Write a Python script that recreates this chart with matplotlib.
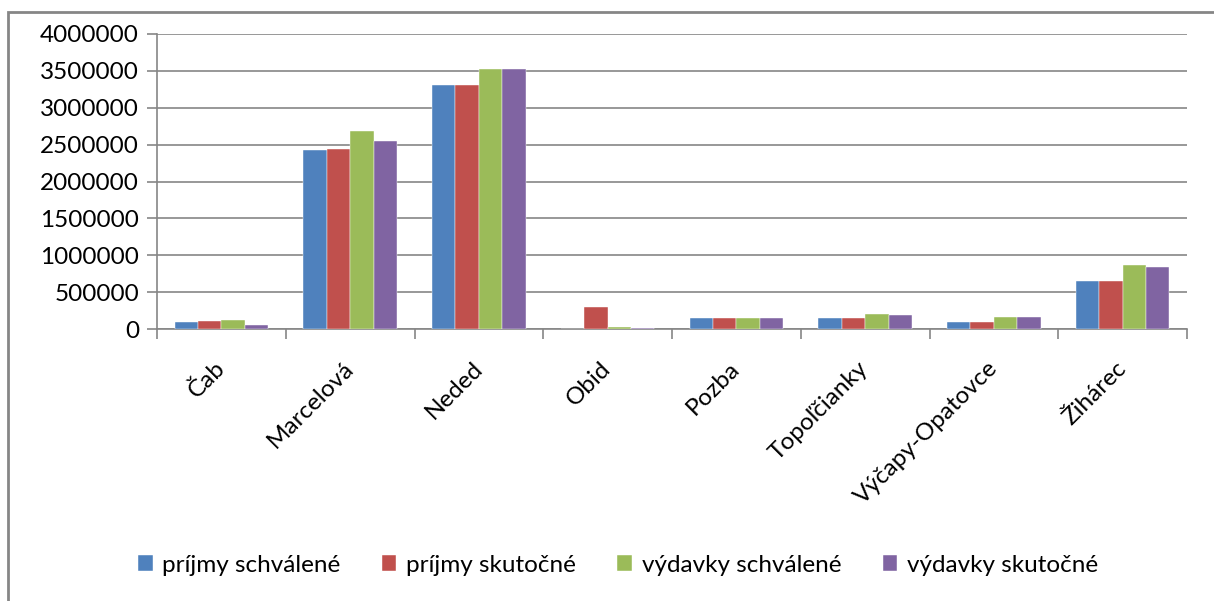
import matplotlib.pyplot as plt
import numpy as np
from matplotlib.patches import Rectangle

plt.rcParams['font.family'] = ['Lato', 'DejaVu Sans']

obce = ['Čab', 'Marcelová', 'Neded', 'Obid', 'Pozba', 'Topoľčianky', 'Výčapy-Opatovce', 'Žihárec']
prijmy_schvalene = [99000, 2430000, 3305000, 0, 147000, 148000, 90000, 647000]
prijmy_skutocne = [104000, 2445000, 3305000, 294000, 147000, 148000, 90000, 647000]
vydavky_schvalene = [118000, 2680000, 3520000, 27000, 147000, 203000, 167000, 870000]
vydavky_skutocne = [54000, 2545000, 3520000, 14000, 147000, 190000, 167000, 837000]
nazvy = ['príjmy schválené', 'príjmy skutočné', 'výdavky schválené', 'výdavky skutočné']
farby = ['#4F81BD', '#C0504D', '#9BBB59', '#8064A2']
yticks = np.arange(0, 4000001, 500000)

fig = plt.figure(figsize=(12.14, 6.01), dpi=100)
ax = fig.add_axes([157/1214, 1-329/601, 1030/1214, 295/601])

# ramik okolo grafu
fig.patches.append(Rectangle((8/1214, -0.1), 1.2, 1-12/601+0.1, transform=fig.transFigure,
                             fill=False, edgecolor='#868686', linewidth=2))

x = np.arange(len(obce))
w = 1/5.5
serie = [prijmy_schvalene, prijmy_skutocne, vydavky_schvalene, vydavky_skutocne]
for i, s in enumerate(serie):
    ax.bar(x + (i-1.5)*w, s, width=w, color=farby[i], label=nazvy[i],
           edgecolor='white', linewidth=0.3, zorder=3)

ax.set_xlim(-0.5, len(obce)-0.5)
ax.set_ylim(0, 4000000)
ax.set_yticks(yticks)
ax.set_yticklabels([str(v) for v in yticks], fontsize=17.5)
ax.yaxis.grid(True, color='#868686', linewidth=1.2)
ax.set_axisbelow(True)

ax.set_xticks(np.arange(len(obce)+1)-0.5)
ax.set_xticklabels([])
ax.set_xticks(x, minor=True)
ax.set_xticklabels(obce, minor=True, rotation=45, ha='right', va='center',
                   rotation_mode='anchor', fontsize=17.5)
ax.tick_params(axis='x', which='minor', length=0, pad=26)
ax.tick_params(axis='x', which='major', length=7, color='#868686', width=1.2)
ax.tick_params(axis='y', length=7, color='#868686', width=1.2, pad=6)

for sp in ['top', 'right']:
    ax.spines[sp].set_visible(False)
for sp in ['left', 'bottom']:
    ax.spines[sp].set_color('#868686')
    ax.spines[sp].set_linewidth(1.2)

ax.legend(loc='center', bbox_to_anchor=(618/1214, 1-565/601), bbox_transform=fig.transFigure,
          ncol=4, frameon=False, fontsize=17.5, handlelength=0.6, handleheight=0.6,
          handletextpad=0.4, columnspacing=1.7)

fig.savefig('out.png', dpi=100)
